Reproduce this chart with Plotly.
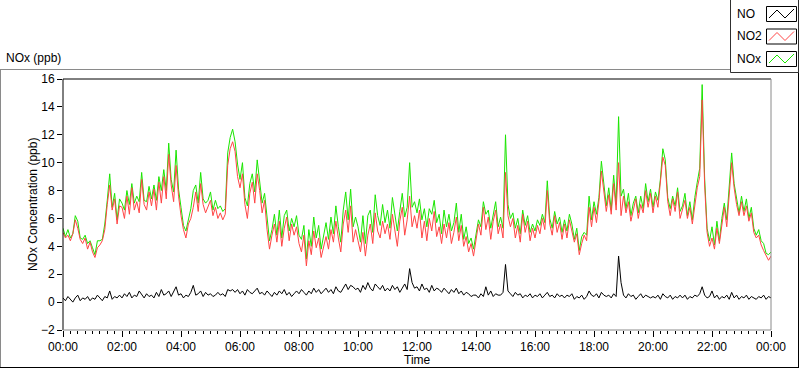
import pandas as pd
import plotly.graph_objects as go

# ---------------- data (5-minute readings, 00:00 .. 24:00) ----------------
no2 = [
    5.0, 4.6, 4.8, 4.4, 4.9, 5.9, 5.3, 4.5, 4.2, 4.6, 3.8, 4.3,
    3.6, 3.2, 3.9, 4.1, 4.4, 5.2, 7.0, 8.4, 6.6, 7.4, 5.6, 6.9,
    6.8, 6.0, 7.6, 6.3, 8.2, 6.6, 7.2, 6.4, 8.8, 7.0, 6.6, 7.9,
    6.9, 8.1, 6.6, 8.6, 7.1, 9.0, 7.4, 10.6, 8.4, 7.2, 9.8, 7.6,
    6.2, 5.2, 4.6, 5.6, 6.0, 6.8, 7.9, 6.5, 8.5, 7.0, 6.4, 6.8,
    7.3, 6.2, 6.8, 6.0, 6.4, 5.9, 6.3, 9.8, 11.0, 11.5, 10.8, 9.0,
    8.2, 9.2, 7.0, 6.0, 7.8, 8.6, 7.1, 9.2, 8.0, 6.4, 7.3, 5.2,
    3.8, 4.8, 5.6, 4.3, 5.8, 4.0, 5.3, 6.1, 4.4, 5.6, 4.8, 5.4,
    4.2, 3.6, 4.8, 2.6, 4.4, 3.4, 5.1, 3.9, 4.6, 3.2, 4.0, 4.7,
    3.8, 5.2, 4.3, 5.8, 4.6, 3.6, 5.6, 6.6, 5.0, 6.9, 4.3, 5.2,
    4.4, 3.6, 5.0, 3.3, 4.8, 5.6, 4.2, 6.4, 5.1, 4.6, 5.8, 4.9,
    5.6, 4.5, 6.3, 5.2, 4.0, 5.8, 6.8, 4.8, 5.9, 7.6, 5.4, 6.2,
    5.3, 6.6, 4.6, 5.8, 4.4, 6.0, 5.1, 6.5, 4.7, 5.4, 4.2, 5.6,
    4.6, 5.7, 4.2, 5.0, 6.1, 4.4, 5.5, 4.0, 4.7, 3.6, 4.2, 3.3,
    4.4, 5.6, 4.8, 6.8, 5.2, 6.1, 4.5, 5.8, 6.6, 4.9, 5.6, 4.6,
    9.3, 6.2, 5.4, 6.0, 4.6, 5.5, 4.3, 6.3, 5.0, 5.8, 4.4, 5.3,
    4.6, 5.5, 4.9, 6.0, 5.2, 8.0, 5.6, 4.8, 6.2, 5.0, 5.7, 4.5,
    5.6, 4.6, 5.9, 5.0, 4.3, 4.9, 3.4, 4.2, 4.8, 4.4, 6.8, 5.4,
    6.8, 5.7, 7.2, 9.4, 8.0, 6.5, 7.7, 6.3, 8.5, 6.6, 10.0, 6.2,
    7.6, 6.4, 7.2, 5.8, 6.6, 7.4, 6.0, 7.0, 6.4, 8.0, 6.8, 7.8,
    6.4, 7.6, 6.8, 8.6, 10.4, 9.8, 7.2, 6.2, 7.4, 6.5, 7.9, 6.0,
    6.6, 7.3, 6.0, 6.8, 5.6, 7.0, 8.2, 9.0, 14.5, 8.4, 5.0, 4.0,
    4.6, 3.8, 5.3, 4.2, 5.6, 6.8, 5.4, 8.0, 10.0, 8.2, 7.0, 6.2,
    7.2, 6.2, 6.9, 5.8, 6.4, 5.0, 4.6, 4.8, 4.1, 3.7, 3.3, 3.0,
    3.3,
]

no = [
    0.3, 0.1, 0.4, 0.2, 0.0, 0.3, 0.5, 0.1, 0.3, 0.2, 0.4, 0.1,
    0.3, 0.2, 0.5, 0.3, 0.1, 0.4, 0.3, 0.8, 0.2, 0.4, 0.3, 0.5,
    0.3, 0.6, 0.4, 0.7, 0.3, 0.5, 0.4, 0.8, 0.5, 0.3, 0.6, 0.4,
    0.5, 0.3, 0.7, 0.4, 0.9, 0.5, 0.6, 0.8, 0.4, 0.7, 1.1, 0.5,
    0.6, 0.3, 0.5, 0.4, 0.7, 1.2, 0.5, 0.6, 0.8, 0.4, 0.7, 0.5,
    0.6, 0.4, 0.5, 0.7, 0.5, 0.6, 0.4, 0.9, 0.8, 0.9, 0.7, 0.9,
    0.6, 0.8, 0.5, 0.9, 0.7, 0.6, 0.8, 1.0, 0.6, 0.7, 0.5, 0.8,
    0.6, 0.4, 0.7, 0.5, 0.8, 0.6, 0.9, 0.5, 0.7, 0.4, 0.6, 0.8,
    0.6, 0.9, 0.7, 0.5, 0.8, 0.6, 1.0, 0.7, 0.9, 0.6, 0.8, 1.0,
    0.7, 0.9, 0.6, 1.1, 0.8, 0.7, 1.0, 1.3, 0.9, 1.2, 1.1, 0.9,
    1.0, 0.7, 1.2, 0.9, 1.4, 1.0, 0.8, 1.3, 1.1, 0.9, 1.2, 0.8,
    1.0, 0.8, 1.2, 0.9, 1.1, 0.7, 1.0, 1.3, 0.9, 2.4, 1.4, 1.0,
    1.1, 0.8, 1.3, 0.9, 1.0, 0.7, 1.2, 0.8, 1.0, 0.9, 0.7, 1.0,
    0.8, 0.6, 0.9, 0.7, 1.0, 0.6, 0.8, 0.5, 0.7, 0.6, 0.4, 0.5,
    0.5, 0.3, 0.6, 0.4, 1.1, 0.5, 0.8, 0.4, 0.6, 0.5, 0.5, 0.7,
    2.7, 0.8, 0.6, 0.4, 0.7, 0.5, 0.6, 0.3, 0.5, 0.4, 0.6, 0.3,
    0.5, 0.4, 0.6, 0.3, 0.5, 0.7, 0.4, 0.5, 0.3, 0.6, 0.4, 0.5,
    0.3, 0.5, 0.4, 0.6, 0.2, 0.4, 0.3, 0.5, 0.2, 0.4, 0.8, 0.5,
    0.4, 0.6, 0.3, 0.7, 0.5, 0.4, 0.5, 0.3, 0.6, 0.4, 3.3, 1.4,
    0.5, 0.3, 0.6, 0.4, 0.5, 0.2, 0.4, 0.6, 0.3, 0.5, 0.4, 0.3,
    0.4, 0.3, 0.5, 0.2, 0.6, 0.4, 0.3, 0.5, 0.2, 0.4, 0.3, 0.5,
    0.3, 0.5, 0.2, 0.4, 0.3, 0.5, 0.4, 0.6, 1.1, 0.5, 0.3, 0.4,
    0.8, 0.3, 0.5, 0.2, 0.4, 0.3, 0.5, 0.2, 0.7, 0.3, 0.5, 0.2,
    0.4, 0.3, 0.5, 0.2, 0.4, 0.3, 0.2, 0.4, 0.3, 0.5, 0.2, 0.4,
    0.3,
]

nox = [
    5.3, 4.7, 5.2, 4.6, 4.9, 6.2, 5.8, 4.6, 4.5, 4.8, 4.2, 4.4,
    3.9, 3.4, 4.4, 4.4, 4.5, 5.6, 7.3, 9.2, 6.8, 7.8, 5.9, 7.4,
    7.1, 6.6, 8.0, 7.0, 8.5, 7.1, 7.6, 7.2, 9.3, 7.3, 7.2, 8.3,
    7.4, 8.4, 7.3, 9.0, 8.0, 9.5, 8.0, 11.4, 8.8, 7.9, 10.9, 8.1,
    6.8, 5.5, 5.1, 6.0, 6.7, 8.0, 8.4, 7.1, 9.3, 7.4, 7.1, 7.3,
    7.9, 6.6, 7.3, 6.7, 6.9, 6.5, 6.7, 10.7, 11.8, 12.4, 11.5, 9.9,
    8.8, 10.0, 7.5, 6.9, 8.5, 9.2, 7.9, 10.2, 8.6, 7.1, 7.8, 6.0,
    4.4, 5.2, 6.3, 4.8, 6.6, 4.6, 6.2, 6.6, 5.1, 6.0, 5.4, 6.2,
    4.8, 4.5, 5.5, 3.1, 5.2, 4.0, 6.1, 4.6, 5.5, 3.8, 4.8, 5.7,
    4.5, 6.1, 4.9, 6.9, 5.4, 4.3, 6.6, 7.9, 5.9, 8.1, 5.4, 6.1,
    5.4, 4.3, 6.2, 4.2, 6.2, 6.6, 5.0, 7.7, 6.2, 5.5, 7.0, 5.7,
    6.6, 5.3, 7.5, 6.1, 5.1, 6.5, 7.8, 6.1, 6.8, 10.0, 6.8, 7.2,
    6.4, 7.4, 5.9, 6.7, 5.4, 6.7, 6.3, 7.3, 5.7, 6.3, 4.9, 6.6,
    5.4, 6.3, 5.1, 5.7, 7.1, 5.0, 6.3, 4.5, 5.4, 4.2, 4.6, 3.8,
    4.9, 5.9, 5.4, 7.2, 6.3, 6.6, 5.3, 6.2, 7.2, 5.4, 6.1, 5.3,
    12.0, 7.0, 6.0, 6.4, 5.3, 6.0, 4.9, 6.6, 5.5, 6.2, 5.0, 5.6,
    5.1, 5.9, 5.5, 6.3, 5.7, 8.7, 6.0, 5.3, 6.5, 5.6, 6.1, 5.0,
    5.9, 5.1, 6.3, 5.6, 4.5, 5.3, 3.7, 4.7, 5.0, 4.8, 7.6, 5.9,
    7.2, 6.3, 7.5, 10.1, 8.5, 6.9, 8.2, 6.6, 9.1, 7.0, 13.3, 7.6,
    8.1, 6.7, 7.8, 6.2, 7.1, 7.6, 6.4, 7.6, 6.7, 8.5, 7.2, 8.1,
    6.8, 7.9, 7.3, 8.8, 11.0, 10.2, 7.5, 6.7, 7.6, 6.9, 8.2, 6.5,
    6.9, 7.8, 6.2, 7.2, 5.9, 7.5, 8.6, 9.6, 15.6, 8.9, 5.3, 4.4,
    5.4, 4.1, 5.8, 4.4, 6.0, 7.1, 5.9, 8.2, 10.7, 8.5, 7.5, 6.4,
    7.6, 6.5, 7.4, 6.0, 6.8, 5.3, 4.8, 5.2, 4.4, 4.2, 3.5, 3.4,
    3.6,
]

times = pd.date_range("2024-01-01 00:00", periods=len(no2), freq="5min")

series_names = ["NO", "NO2", "NOx"]
series_colors = ["#000000", "#FF4545", "#1AE600"]

# ---------------- geometry helpers (pixel -> paper) ----------------
W, H = 800, 369
L, R, T, B = 63, 771, 79, 330
PW, PH = R - L, B - T


def px(x):
    return (x - L) / PW


def py(y):
    return (B - y) / PH


fig = go.Figure()
fig.add_trace(go.Scatter(x=times, y=nox, mode="lines", name="NOx",
                         line=dict(color=series_colors[2], width=1)))
fig.add_trace(go.Scatter(x=times, y=no2, mode="lines", name="NO2",
                         line=dict(color=series_colors[1], width=1)))
fig.add_trace(go.Scatter(x=times, y=no, mode="lines", name="NO",
                         line=dict(color=series_colors[0], width=1)))

font = dict(family="Liberation Sans, Arial, sans-serif", size=12, color="#000000")

shapes = []


def line(x0, y0, x1, y1, color, width=1):
    shapes.append(dict(type="line", xref="paper", yref="paper",
                       x0=px(x0), y0=py(y0), x1=px(x1), y1=py(y1),
                       line=dict(color=color, width=width), layer="above"))


# outer frame
line(0, 69.5, 730, 69.5, "#8a8a8a")
line(0.5, 69.5, 0.5, 367.5, "#8a8a8a")
line(0, 367.5, 799, 367.5, "#000000")
line(798.5, 72, 798.5, 367.5, "#000000")

# plot frame
line(L, T, R, T, "#000000")
line(L, T, L, B, "#000000")
line(R, T, R, B, "#8a8a8a")
line(L, B, R, B, "#8a8a8a")

# legend box
shapes.append(dict(type="rect", xref="paper", yref="paper",
                   x0=px(730.5), y0=py(72.5), x1=px(798.5), y1=py(-1),
                   fillcolor="#ffffff", line=dict(color="#303030", width=1),
                   layer="above"))

annotations = []
legend_rows = [14, 36.5, 59]
for name, color, yc in zip(series_names, series_colors, legend_rows):
    annotations.append(dict(text=name, xref="paper", yref="paper",
                            x=px(735), y=py(yc), xanchor="left", yanchor="middle",
                            showarrow=False, font=font))
    shapes.append(dict(type="rect", xref="paper", yref="paper",
                       x0=px(766.5), y0=py(yc + 7.5), x1=px(796.5), y1=py(yc - 7.5),
                       fillcolor="#ffffff", line=dict(color="#000000", width=1),
                       layer="above"))
    pts = [(769, yc + 4), (777, yc - 4), (785, yc + 4), (794, yc - 5)]
    path = "M " + " L ".join(f"{px(a)},{py(b)}" for a, b in pts)
    shapes.append(dict(type="path", xref="paper", yref="paper", path=path,
                       line=dict(color=color, width=1), layer="above"))

annotations.append(dict(text="NOx (ppb)", xref="paper", yref="paper",
                        x=px(4), y=py(58), xanchor="left", yanchor="middle",
                        showarrow=False, font=font))
annotations.append(dict(text="Time", xref="paper", yref="paper",
                        x=px(417), y=py(360), xanchor="center", yanchor="middle",
                        showarrow=False, font=font))
annotations.append(dict(text="NOx Concentration (ppb)", xref="paper", yref="paper",
                        x=px(33), y=py(205), xanchor="center", yanchor="middle",
                        textangle=-90, showarrow=False, font=font))

fig.update_layout(
    width=W, height=H,
    margin=dict(l=L, r=W - R, t=T, b=H - B, pad=0),
    paper_bgcolor="#ffffff", plot_bgcolor="#ffffff",
    showlegend=False,
    font=font,
    shapes=shapes,
    annotations=annotations,
    xaxis=dict(
        type="date",
        range=["2024-01-01 00:00", "2024-01-02 00:00"],
        tickformat="%H:%M",
        dtick=7200000,
        tick0="2024-01-01 00:00",
        ticks="outside", ticklen=6, tickcolor="#000000", tickwidth=1,
        minor=dict(dtick=900000, ticks="outside", ticklen=3,
                   tickcolor="#000000", showgrid=False),
        showgrid=False, zeroline=False, showline=False,
        tickfont=font,
    ),
    yaxis=dict(
        range=[-2, 16],
        tickvals=[-2, 0, 2, 4, 6, 8, 10, 12, 14, 16],
        ticks="outside", ticklen=5, tickcolor="#000000", tickwidth=1,
        showgrid=False, zeroline=False, showline=False,
        tickfont=font,
    ),
)

fig.write_html(
    "out.html",
    config={"displayModeBar": False},
    post_script="document.body.style.margin='0';document.body.style.overflow='hidden';",
)
